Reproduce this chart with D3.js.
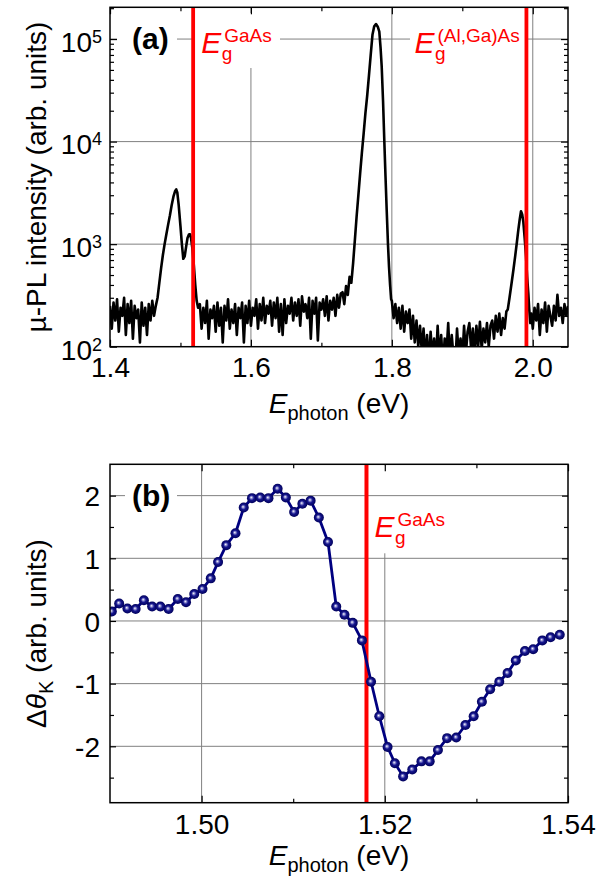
<!DOCTYPE html>
<html><head><meta charset="utf-8">
<script src="https://cdn.jsdelivr.net/npm/d3@7"></script>
<style>body{margin:0;background:#fff}svg text{font-family:"Liberation Sans",Arial,Helvetica,sans-serif}</style>
</head><body><svg id="c" width="605" height="881"></svg>
<script>
// ---------- DATA: panel (a) micro-PL spectrum ----------
const baseA_start = 1.400, baseA_step = 0.0025;
const baseA = [250,150,270,180,290,140,240,200,300,130,260,170,280,120,250,190,230,110,270,160,240,130,260,180,280,200,250];
const peak1E = [1.4675,1.470,1.4725,1.475,1.4775,1.480,1.4825,1.485,1.4875,1.490,1.4925,1.494,1.4955,1.4975,1.500,1.502,1.504,1.506,1.508,1.510,1.512,1.5135,1.515,1.517,1.519,1.521,1.523,1.525];
const peak1I = [300,420,580,780,1000,1250,1550,1900,2400,2900,3300,3420,3200,2400,1500,1000,720,760,940,1150,1240,1250,1150,900,620,400,280,240];
const baseB_start = 1.5275, baseB_step = 0.0025;
const baseB = [260,150,240,170,280,120,230,190,250,140,
               270,160,240,110,250,180,290,150,230,170,
               260,130,240,190,270,110,250,170,280,160,
               240,200,290,150,260,180,300,170,250,210,
               280,160,270,190,300,140,260,130,290,170,
               250,210,300,180,270,200,290,160,310,220,
               260,190,300,120,280,210,300,115,270,230,
               290,200,310,180,280,230,300,200,320,240,330];
const peak2E = [1.730,1.7325,1.735,1.7375,1.740,1.7425,1.745,1.7477,1.750,1.7525,1.755,1.7575,1.760,1.7625,1.765,1.7675,1.770,1.7725,1.775,1.7775,1.780,1.7822,1.784,1.7856,1.7875,1.7893,1.791,1.7927,1.7945,1.796,1.7975,1.799];
const peak2I = [340,260,390,320,480,420,650,1140,1860,3000,4900,7800,12000,19000,28000,44000,70000,110000,133000,140000,132000,118000,82000,54000,25000,10200,4600,2140,1000,600,400,290];
const baseC_start = 1.800, baseC_step = 0.0025;
const baseC = [280,190,260,170,240,150,250,140,220,
               170,230,120,200,110,180,100,160,
               90,150,75,130,65,140,80,120,70,160,75,130,65,120,85,170,70,130,80,65,150,80,120,75,
               160,85,140,170,95,150,85,160,100,175,95,150,110,170,100,160,
               180,120,200,140,210,130,190,150,220];
const peak3E = [1.9645,1.967,1.970,1.9725,1.975,1.9775,1.9795,1.9815,1.9833,1.985,1.9866,1.9885,1.9904,1.992,1.9937,1.995,1.9965,1.998];
const peak3I = [230,300,420,560,760,1050,1380,1750,2090,1950,1650,1150,760,480,330,230,170,210];
const baseD_start = 2.000, baseD_step = 0.0025;
const baseD = [150,240,180,260,130,230,170,270,140,250,200,160,250,180,320,200,240,170,260,200,250];

const xTicksA = [1.4,1.6,1.8,2.0];
const xMinorA = [1.5,1.7,1.9];
const yTicksA = [1e2,1e3,1e4,1e5];
const yMinorA = [2e2,3e2,4e2,5e2,6e2,7e2,8e2,9e2,2e3,3e3,4e3,5e3,6e3,7e3,8e3,9e3,2e4,3e4,4e4,5e4,6e4,7e4,8e4,9e4,2e5];
const EgGaAs = 1.518, EgAlGaAs = 1.991;

// ---------- DATA: panel (b) Kerr rotation ----------
const kerrE = [1.4902,1.4910,1.4919,1.4928,1.4937,1.4946,1.4955,1.4964,1.4974,1.4983,
               1.4992,1.5001,1.5010,1.5018,1.5027,1.5037,1.5046,1.5055,1.5064,1.5073,
               1.5083,1.5092,1.5101,1.5110,1.5119,1.5128,1.5138,1.5147,1.5156,1.5165,
               1.5175,1.5185,1.5194,1.5203,1.5211,1.5220,1.5230,1.5240,1.5249,1.5258,
               1.5268,1.5278,1.5288,1.5297,1.5306,1.5315,1.5325,1.5334,1.5343,1.5353,
               1.5362,1.5372,1.5381,1.5391];
const kerrV = [0.15,0.28,0.20,0.19,0.33,0.23,0.23,0.19,0.35,0.30,
               0.43,0.51,0.68,0.94,1.21,1.40,1.81,1.96,1.97,1.96,
               2.11,1.97,1.74,1.87,1.92,1.65,1.26,0.23,0.10,-0.03,
               -0.31,-0.97,-1.52,-2.01,-2.27,-2.48,-2.37,-2.24,-2.24,-2.06,
               -1.87,-1.86,-1.66,-1.52,-1.29,-1.09,-0.97,-0.83,-0.63,-0.48,
               -0.45,-0.31,-0.26,-0.22];
const xTicksB = [1.50,1.52,1.54];
const xMinorB = [1.51,1.53];
const yTicksB = [-2,-1,0,1,2];
const yMinorB = [-2.5,-1.5,-0.5,0.5,1.5];

// ---------- build spectrum ----------
function seg(start, step, vals){ return vals.map((v,i)=>[start+step*i, v]); }
const spectrum = [].concat(
  seg(baseA_start, baseA_step, baseA),
  peak1E.map((e,i)=>[e, peak1I[i]]),
  seg(baseB_start, baseB_step, baseB),
  peak2E.map((e,i)=>[e, peak2I[i]]),
  seg(baseC_start, baseC_step, baseC),
  peak3E.map((e,i)=>[e, peak3I[i]]),
  seg(baseD_start, baseD_step, baseD)
).sort((a,b)=>a[0]-b[0]);

const svg = d3.select('#c');
const GRID = '#808080';
const defs = svg.append('defs');
const PA = {l:110, r:568, t:7.3, b:346.7};
const PB = {l:110, r:568, t:464.3, b:802.7};
defs.append('clipPath').attr('id','clipA').append('rect').attr('x',PA.l).attr('y',PA.t).attr('width',PA.r-PA.l).attr('height',PA.b-PA.t);
defs.append('clipPath').attr('id','clipB').append('rect').attr('x',PB.l).attr('y',PB.t).attr('width',PB.r-PB.l).attr('height',PB.b-PB.t);
const grad = defs.append('radialGradient').attr('id','ball').attr('cx','0.5').attr('cy','0.5').attr('r','0.5').attr('fx','0.42').attr('fy','0.42');
grad.append('stop').attr('offset','0').attr('stop-color','#ffffff');
grad.append('stop').attr('offset','0.22').attr('stop-color','#8f8fd0');
grad.append('stop').attr('offset','0.5').attr('stop-color','#16168e');
grad.append('stop').attr('offset','1').attr('stop-color','#00005a');

const xA = d3.scaleLinear().domain([1.4,2.05]).range([PA.l,PA.r]);
const yA = d3.scaleLog().domain([100,2.04e5]).range([PA.b,PA.t]);
const xB = d3.scaleLinear().domain([1.49,1.54]).range([PB.l,PB.r]);
const yB = d3.scaleLinear().domain([-2.9,2.5]).range([PB.b,PB.t]);

function styleAxis(g){ g.select('.domain').remove(); g.selectAll('.tick line').attr('stroke','#000').attr('stroke-width',1.2); g.attr('font-size',28).attr('font-family',null); }

// ===== Panel A =====
const gA = svg.append('g');
gA.selectAll('.vg').data(xTicksA.slice(1)).join('line').attr('x1',d=>xA(d)).attr('x2',d=>xA(d)).attr('y1',PA.t).attr('y2',PA.b).attr('stroke',GRID).attr('stroke-width',1);
gA.selectAll('.hg').data(yTicksA.slice(1)).join('line').attr('x1',PA.l).attr('x2',PA.r).attr('y1',d=>yA(d)).attr('y2',d=>yA(d)).attr('stroke',GRID).attr('stroke-width',1);
[[117,22,60,40],[195,13,85,55],[410,13,115,55]].forEach(b=>gA.append('rect').attr('x',b[0]).attr('y',b[1]).attr('width',b[2]).attr('height',b[3]).attr('fill','#fff'));
gA.append('path').datum(spectrum).attr('clip-path','url(#clipA)')
  .attr('d', d3.line().x(d=>xA(d[0])).y(d=>yA(d[1])))
  .attr('fill','none').attr('stroke','#000').attr('stroke-width',2.6).attr('stroke-linejoin','round');
[EgGaAs,EgAlGaAs].forEach(e=>gA.append('line').attr('x1',xA(e)).attr('x2',xA(e)).attr('y1',PA.t).attr('y2',PA.b).attr('stroke','#ff0000').attr('stroke-width',3.8));
gA.append('g').attr('transform',`translate(0,${PA.b})`).call(d3.axisBottom(xA).tickValues(xTicksA).tickSizeInner(-7).tickSizeOuter(0).tickPadding(10).tickFormat(d3.format('.1f'))).call(styleAxis);
gA.append('g').attr('transform',`translate(0,${PA.b})`).call(d3.axisBottom(xA).tickValues(xMinorA).tickSizeInner(-4).tickSizeOuter(0).tickFormat('')).call(styleAxis);
gA.append('g').attr('transform',`translate(0,${PA.t})`).call(d3.axisTop(xA).tickValues(xTicksA).tickSizeInner(-7).tickSizeOuter(0).tickFormat('')).call(styleAxis);
gA.append('g').attr('transform',`translate(0,${PA.t})`).call(d3.axisTop(xA).tickValues(xMinorA).tickSizeInner(-4).tickSizeOuter(0).tickFormat('')).call(styleAxis);
const yAxA = gA.append('g').attr('transform',`translate(${PA.l},0)`).call(d3.axisLeft(yA).tickValues(yTicksA).tickSizeInner(-7).tickSizeOuter(0).tickPadding(8).tickFormat('')).call(styleAxis);
yAxA.selectAll('.tick text').attr('dy','0.44em').each(function(d){
  const t=d3.select(this); t.append('tspan').text('10');
  t.append('tspan').attr('dy','-0.5em').attr('font-size',18).text(Math.round(Math.log10(d)));
});
gA.append('g').attr('transform',`translate(${PA.l},0)`).call(d3.axisLeft(yA).tickValues(yMinorA).tickSizeInner(-4).tickSizeOuter(0).tickFormat('')).call(styleAxis);
gA.append('g').attr('transform',`translate(${PA.r},0)`).call(d3.axisRight(yA).tickValues(yTicksA).tickSizeInner(-7).tickSizeOuter(0).tickFormat('')).call(styleAxis);
gA.append('g').attr('transform',`translate(${PA.r},0)`).call(d3.axisRight(yA).tickValues(yMinorA).tickSizeInner(-4).tickSizeOuter(0).tickFormat('')).call(styleAxis);
gA.append('rect').attr('x',PA.l).attr('y',PA.t).attr('width',PA.r-PA.l).attr('height',PA.b-PA.t).attr('fill','none').attr('stroke','#000').attr('stroke-width',1.5);
gA.append('text').attr('x',132).attr('y',49).attr('font-size',30).attr('font-weight','bold').text('(a)');
function egLabel(g, x, yBase, sup){
  g.append('text').attr('x',x).attr('y',yBase).attr('font-size',30).attr('font-style','italic').attr('fill','#ff0000').text('E');
  g.append('text').attr('x',x+20.5).attr('y',yBase+7).attr('font-size',19).attr('fill','#ff0000').text('g');
  g.append('text').attr('x',x+23).attr('y',yBase-11.5).attr('font-size',19).attr('fill','#ff0000').text(sup);
}
egLabel(gA, xA(EgGaAs)+8, 53, 'GaAs');
egLabel(gA, xA(EgAlGaAs)-112, 53, '(Al,Ga)As');
function eLabel(g, cx, y){
  const t=g.append('text').attr('x',cx).attr('y',y).attr('text-anchor','middle').attr('font-size',28);
  t.append('tspan').attr('font-style','italic').text('E');
  t.append('tspan').attr('font-size',20).attr('dy',7).text('photon');
  t.append('tspan').attr('dy',-7).text(' (eV)');
}
eLabel(gA, (PA.l+PA.r)/2, 413);
gA.append('text').attr('transform',`translate(46,${(PA.t+PA.b)/2}) rotate(-90)`).attr('text-anchor','middle').attr('font-size',28).text('µ-PL intensity (arb. units)');

// ===== Panel B =====
const gB = svg.append('g');
gB.selectAll('.vg').data(xTicksB.slice(0,2)).join('line').attr('x1',d=>xB(d)).attr('x2',d=>xB(d)).attr('y1',PB.t).attr('y2',PB.b).attr('stroke',GRID).attr('stroke-width',1);
gB.append('rect').attr('x',370).attr('y',PB.t+1).attr('width',78).attr('height',88).attr('fill','#fff');
gB.selectAll('.hg').data(yTicksB).join('line').attr('x1',PB.l).attr('x2',PB.r).attr('y1',d=>yB(d)).attr('y2',d=>yB(d)).attr('stroke',GRID).attr('stroke-width',1);
gB.append('rect').attr('x',125).attr('y',482).attr('width',52).attr('height',30).attr('fill','#fff');
gB.append('line').attr('x1',xB(EgGaAs)).attr('x2',xB(EgGaAs)).attr('y1',PB.t).attr('y2',PB.b).attr('stroke','#ff0000').attr('stroke-width',4);
const kerr = kerrE.map((e,i)=>[e,kerrV[i]]);
const gD = gB.append('g').attr('clip-path','url(#clipB)');
gD.append('path').datum(kerr).attr('d',d3.line().x(d=>xB(d[0])).y(d=>yB(d[1]))).attr('fill','none').attr('stroke','#000080').attr('stroke-width',2.8).attr('stroke-linejoin','round');
gD.selectAll('circle').data(kerr).join('circle').attr('cx',d=>xB(d[0])).attr('cy',d=>yB(d[1])).attr('r',5).attr('fill','url(#ball)');
gB.append('g').attr('transform',`translate(0,${PB.b})`).call(d3.axisBottom(xB).tickValues(xTicksB).tickSizeInner(-7).tickSizeOuter(0).tickPadding(11).tickFormat(d3.format('.2f'))).call(styleAxis);
gB.append('g').attr('transform',`translate(0,${PB.b})`).call(d3.axisBottom(xB).tickValues(xMinorB).tickSizeInner(-4).tickSizeOuter(0).tickFormat('')).call(styleAxis);
gB.append('g').attr('transform',`translate(0,${PB.t})`).call(d3.axisTop(xB).tickValues(xTicksB).tickSizeInner(-7).tickSizeOuter(0).tickFormat('')).call(styleAxis);
gB.append('g').attr('transform',`translate(0,${PB.t})`).call(d3.axisTop(xB).tickValues(xMinorB).tickSizeInner(-4).tickSizeOuter(0).tickFormat('')).call(styleAxis);
const yAxB = gB.append('g').attr('transform',`translate(${PB.l},0)`).call(d3.axisLeft(yB).tickValues(yTicksB).tickSizeInner(-6).tickSizeOuter(0).tickPadding(10).tickFormat(d=>d<0?'-'+(-d):String(d))).call(styleAxis);
yAxB.selectAll('.tick text').attr('dy','0.36em');
gB.append('g').attr('transform',`translate(${PB.l},0)`).call(d3.axisLeft(yB).tickValues(yMinorB).tickSizeInner(-4).tickSizeOuter(0).tickFormat('')).call(styleAxis);
gB.append('g').attr('transform',`translate(${PB.r},0)`).call(d3.axisRight(yB).tickValues(yTicksB).tickSizeInner(-6).tickSizeOuter(0).tickFormat('')).call(styleAxis);
gB.append('g').attr('transform',`translate(${PB.r},0)`).call(d3.axisRight(yB).tickValues(yMinorB).tickSizeInner(-4).tickSizeOuter(0).tickFormat('')).call(styleAxis);
gB.append('rect').attr('x',PB.l).attr('y',PB.t).attr('width',PB.r-PB.l).attr('height',PB.b-PB.t).attr('fill','none').attr('stroke','#000').attr('stroke-width',1.5);
gB.append('text').attr('x',132).attr('y',506).attr('font-size',30).attr('font-weight','bold').text('(b)');
egLabel(gB, xB(EgGaAs)+8, 537, 'GaAs');
eLabel(gB, (PB.l+PB.r)/2, 865);
const yt = gB.append('text').attr('transform',`translate(46,${(PB.t+PB.b)/2}) rotate(-90)`).attr('text-anchor','middle').attr('font-size',28);
yt.append('tspan').text('Δ');
yt.append('tspan').attr('font-style','italic').text('θ');
yt.append('tspan').attr('font-size',20).attr('dy',7).text('K');
yt.append('tspan').attr('dy',-7).text(' (arb. units)');
</script></body></html>
